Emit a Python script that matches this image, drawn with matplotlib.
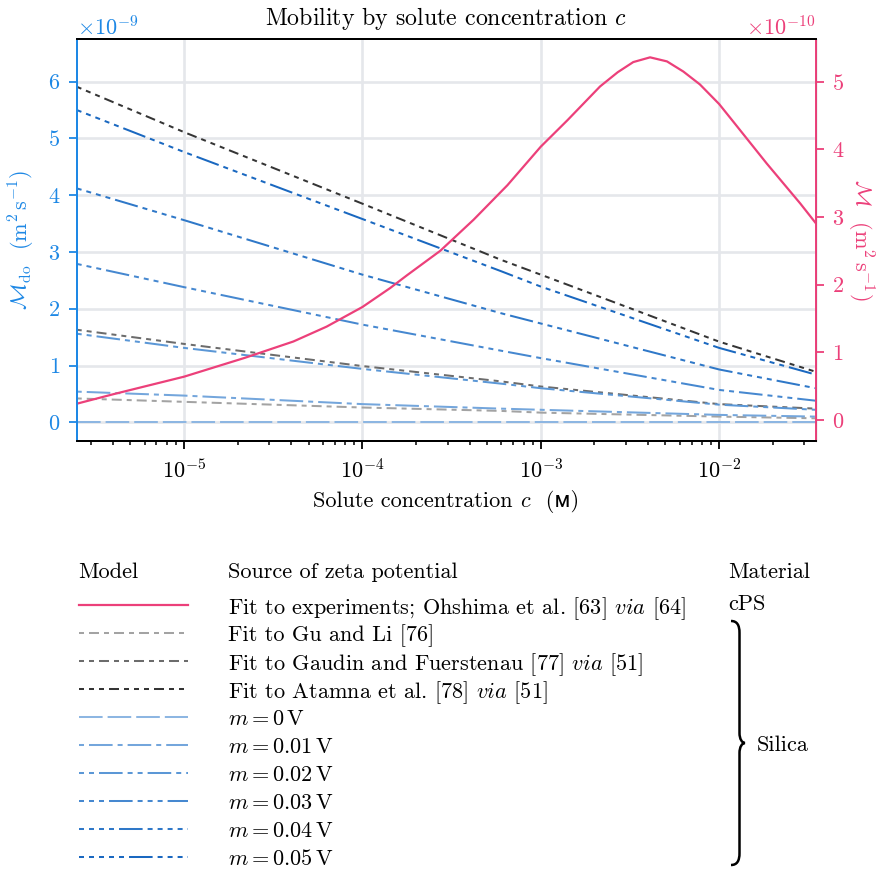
import matplotlib
matplotlib.use("Agg")
import matplotlib.pyplot as plt
import numpy as np
from matplotlib.lines import Line2D
from matplotlib.path import Path
from matplotlib.patches import PathPatch
from matplotlib.offsetbox import TextArea, HPacker, AnchoredOffsetbox

plt.rcParams['font.family'] = ['cmr10', 'DejaVu Sans']
plt.rcParams['mathtext.fontset'] = 'cm'
plt.rcParams['axes.formatter.use_mathtext'] = True
plt.rcParams['font.size'] = 16
plt.rcParams['lines.scale_dashes'] = False
plt.rcParams['axes.unicode_minus'] = True

BLUE = '#1e88e5'
PINK = '#ec407a'

# concentration grid for the model curves (M)
conc = [2.5e-6, 1e-5, 1e-4, 6e-4, 1e-3, 1e-2, 3.48e-2]

# M_do in units of 1e-9 m^2/s
gu_li = [0.42, 0.36, 0.26, 0.20, 0.17, 0.10, 0.07]
gaudin = [1.63, 1.38, 0.99, 0.72, 0.63, 0.32, 0.24]
atamna = [5.91, 5.11, 3.85, 2.86, 2.60, 1.42, 0.89]
m_values = [0, 0.01, 0.02, 0.03, 0.04, 0.05]
m_curves = [
    [0, 0, 0, 0, 0, 0, 0],
    [0.54, 0.47, 0.32, 0.24, 0.22, 0.13, 0.10],
    [1.56, 1.31, 0.94, 0.68, 0.60, 0.31, 0.22],
    [2.79, 2.38, 1.72, 1.26, 1.13, 0.57, 0.38],
    [4.12, 3.56, 2.60, 1.92, 1.74, 0.93, 0.60],
    [5.50, 4.76, 3.58, 2.66, 2.39, 1.31, 0.84],
]

# experimental fit, M in units of 1e-10 m^2/s
exp_conc = [2.5e-6, 4.0e-6, 1.0e-5, 2.2e-5, 4.1e-5, 6.3e-5, 1.0e-4, 1.43e-4,
            1.78e-4, 2.73e-4, 4.2e-4, 6.5e-4, 1.0e-3, 1.41e-3, 2.15e-3,
            2.7e-3, 3.3e-3, 4.1e-3, 5.1e-3, 6.3e-3, 7.8e-3, 1.0e-2, 1.2e-2,
            1.85e-2, 2.85e-2, 3.48e-2]
exp_mob = [0.24, 0.38, 0.64, 0.92, 1.16, 1.38, 1.67, 1.95, 2.14, 2.50, 2.96,
           3.47, 4.04, 4.43, 4.93, 5.14, 5.29, 5.36, 5.30, 5.15, 4.96, 4.67,
           4.41, 3.79, 3.20, 2.91]

gray_colors = ['#a3a3a3', '#6c6c6c', '#353535']
blue_colors = ['#8db6e2', '#74a6dc', '#5b97d6', '#4688d0', '#2f78c8', '#1a68c0']

LONG, SHORT, GAP = 17.0, 3.6, 3.6


def dash_pattern(n_dots, long=LONG):
    # dots first, then the long dash
    seq = []
    for _ in range(n_dots):
        seq += [SHORT, GAP]
    seq += [long, GAP]
    return (0, seq)


fig = plt.figure(figsize=(8.83, 8.69), dpi=100)
ax = fig.add_axes([0.0869, 0.4929, 0.8369, 0.4619])
ax2 = ax.twinx()

c = np.array(conc)
handles = []
labels = []

lw = 1.45
gray_sets = [(gu_li, 'Fit to Gu and Li [76]', 1),
             (gaudin, r'Fit to Gaudin and Fuerstenau [77] $\mathit{via}$ [51]', 2),
             (atamna, r'Fit to Atamna et al. [78] $\mathit{via}$ [51]', 3)]
for (vals, lab, nd), col in zip(gray_sets, gray_colors):
    ln, = ax.plot(c, np.array(vals) * 1e-9, color=col, lw=lw,
                  linestyle=dash_pattern(nd, 7.2))
    handles.append(ln)
    labels.append(lab)

for i, (m, vals) in enumerate(zip(m_values, m_curves)):
    ln, = ax.plot(c, np.array(vals) * 1e-9, color=blue_colors[i], lw=lw,
                  linestyle=dash_pattern(i))
    handles.append(ln)
    labels.append(r'$m = %g\,\mathrm{V}$' % m)

pk, = ax2.plot(exp_conc, np.array(exp_mob) * 1e-10, color=PINK, lw=1.6)
handles.insert(0, pk)
labels.insert(0, r'Fit to experiments; Ohshima et al. [63] $\mathit{via}$ [64]')

ax.set_xscale('log')
ax.set_xlim(2.5e-6, 3.48e-2)
ax.set_ylim(-0.324e-9, 6.746e-9)
ax2.set_ylim(-0.306e-10, 5.627e-10)
ax.set_yticks(np.arange(0, 7) * 1e-9)
ax2.set_yticks(np.arange(0, 6) * 1e-10)

ax.grid(True, which='major', color='#e5e7eb', lw=1.9)
ax.set_axisbelow(True)

ax.tick_params(axis='x', which='major', length=5.5, width=1.3, pad=7)
ax.tick_params(axis='x', which='minor', length=3, width=1.1)
ax.tick_params(axis='y', length=6, width=1.3, colors=BLUE, pad=6)
ax2.tick_params(axis='y', length=6, width=1.3, colors=PINK, pad=6)
for sp in ['top', 'bottom']:
    ax.spines[sp].set_linewidth(1.4)
    ax2.spines[sp].set_linewidth(1.4)
ax2.spines['left'].set_color(BLUE)
ax2.spines['left'].set_linewidth(1.4)
ax2.spines['right'].set_color(PINK)
ax2.spines['right'].set_linewidth(1.4)
ax.spines['left'].set_color(BLUE)
ax.spines['left'].set_linewidth(1.4)

ax.yaxis.get_offset_text().set_color(BLUE)
ax2.yaxis.get_offset_text().set_color(PINK)

ax.set_ylabel(r'$\mathcal{M}_{\mathrm{do}}$  $(\mathrm{m}^2\,\mathrm{s}^{-1})$',
              color=BLUE, labelpad=8)
ax2.set_ylabel(r'$\mathcal{M}$  $(\mathrm{m}^2\,\mathrm{s}^{-1})$',
               color=PINK, rotation=270, labelpad=22)
ax.set_title('Mobility by solute concentration $c$', pad=10, fontsize=17.2)

# x label in pieces so the small-capital molar sign can use a fallback font
xlab = HPacker(children=[
    TextArea('Solute concentration '),
    TextArea('$c$'),
    TextArea('  (\u1d0d)',
             textprops=dict(family=['cmr10', 'Noto Sans', 'DejaVu Sans'])),
], align='baseline', pad=0, sep=0)
ax.add_artist(AnchoredOffsetbox(loc='upper center', child=xlab, pad=0,
                                frameon=False, borderpad=0,
                                bbox_to_anchor=(0.5, -0.122),
                                bbox_transform=ax.transAxes))

W, H = 883, 869


def fx(px):
    return px / W


def fy(py):
    return 1 - py / H


# legend laid out as a table: header row, then one row per curve
row0, pitch = 605, 28.0
fig.text(fx(78), fy(572), 'Model', va='center', ha='left')
fig.text(fx(228), fy(572), 'Source of zeta potential', va='center', ha='left')
fig.text(fx(728), fy(572), 'Material', va='center', ha='left')
fig.text(fx(728), fy(row0 - 1), 'cPS', va='center', ha='left')
for i, (h, lab) in enumerate(zip(handles, labels)):
    yrow = row0 + pitch * i
    sample = Line2D([fx(79), fx(188)], [fy(yrow), fy(yrow)])
    sample.update_from(h)
    sample.set_transform(fig.transFigure)
    sample.set_clip_on(False)
    sample.set_clip_path(None)
    fig.add_artist(sample)
    fig.text(fx(228), fy(yrow), lab, va='center_baseline', ha='left')

fig.text(fx(757), fy(745), 'Silica', va='center', ha='left')

# curly brace grouping the silica rows
xl, xs, xt = 731, 739.5, 745
yt, ym, yb = 621, 743, 865
verts = [(xl, yt), (xl + 6, yt), (xs, yt + 4), (xs, yt + 12),
         (xs, ym - 10),
         (xs, ym - 4), (xt - 3, ym), (xt, ym),
         (xt - 3, ym), (xs, ym + 4), (xs, ym + 10),
         (xs, yb - 12),
         (xs, yb - 4), (xl + 6, yb), (xl, yb)]
codes = [Path.MOVETO, Path.CURVE4, Path.CURVE4, Path.CURVE4,
         Path.LINETO,
         Path.CURVE4, Path.CURVE4, Path.CURVE4,
         Path.CURVE4, Path.CURVE4, Path.CURVE4,
         Path.LINETO,
         Path.CURVE4, Path.CURVE4, Path.CURVE4]
verts = [(fx(x), fy(y)) for x, y in verts]
fig.patches.append(PathPatch(Path(verts, codes), transform=fig.transFigure,
                             fill=False, lw=1.8, color='black'))

fig.savefig('out.png', dpi=100)
